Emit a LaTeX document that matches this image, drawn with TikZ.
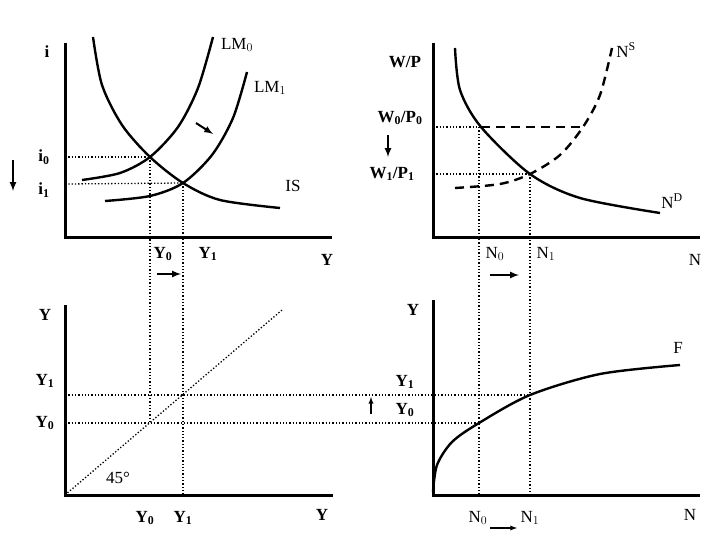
\documentclass[tikz,border=0pt]{standalone}
\usepackage{fontspec}
\setmainfont{Liberation Serif}
\begin{document}
\begin{tikzpicture}[x=1pt,y=-1pt,
 ax/.style={line width=3pt},
 crv/.style={line width=2.4pt},
 dot/.style={dotted,line width=1.3pt},
 arr/.style={-latex,line width=2pt},
 lb/.style={font=\fontsize{17}{19}\selectfont\bfseries,inner sep=0pt},
 ln/.style={font=\fontsize{17}{19}\selectfont,inner sep=0pt}]
\useasboundingbox (0,0) rectangle (720,540);
% key points
\coordinate (E0) at (150,157); \coordinate (E1) at (183,183);
\coordinate (M0) at (481,127); \coordinate (M1) at (530,174);
% top-left axes
\coordinate (o1) at (65,237);
\draw[ax] (65,43) -- (o1) -- (332,237);
\draw[crv] plot[smooth] coordinates {(93,37) (102,85) (122,125) (150,157) (183,183) (220,200) (280,208)};
\draw[crv] plot[smooth] coordinates {(82,180) (120,173) (150,157) (178,127) (198,88) (213,37)};
\draw[crv] plot[smooth] coordinates {(105,201) (150,196) (183,183) (212,155) (233,118) (247,72)};
\draw[dot] (65,157) -- (E0); \draw[dot] (65,184) -- (E1);
\draw[dot] (E0) -- (150,423); \draw[dot] (E1) -- (183,496);
\node[lb] (li) at (47,52) {i};
\node[ln] (lm0) at (237,45) {LM$_0$};
\node[ln] (lm1) at (270,88) {LM$_1$};
\node[ln] (lis) at (293,186) {IS};
\node[lb] (li0) at (44,157) {i$_\mathbf{0}$};
\node[lb] (li1) at (44,190) {i$_\mathbf{1}$};
\coordinate (a1s) at (13,160); \coordinate (a1e) at (13,191); \draw[arr] (a1s) -- (a1e);
\coordinate (a2s) at (196,123); \coordinate (a2e) at (213,134); \draw[arr] (a2s) -- (a2e);
\node[lb] (ty0) at (163,254) {Y$_\mathbf{0}$};
\node[lb] (ty1) at (208,254) {Y$_\mathbf{1}$};
\node[lb] (ty) at (327,260) {Y};
\coordinate (a3s) at (157,274); \coordinate (a3e) at (181,274); \draw[arr] (a3s) -- (a3e);
% top-right
\draw[ax] (433,43) -- (433,237) -- (700,237);
\draw[crv] plot[smooth] coordinates {(455,48) (460,90) (481,127) (530,174) (580,198) (660,213)};
\draw[crv,dash pattern=on 9pt off 6pt] plot[smooth] coordinates {(455,188) (500,184) (530,174) (560,155) (583,127) (600,95) (612,48)};
\draw[dot] (433,127) -- (M0);
\draw[line width=1.6pt,dash pattern=on 9pt off 6pt] (M0) -- (583,127);
\draw[dot] (433,174) -- (M1);
\draw[dot] (479,127) -- (479,496);
\draw[dot] (M1) -- (530,496);
\node[lb] (lwp) at (405,62) {W/P};
\node[ln] (lns) at (626,50) {N$^\mathrm{S}$};
\node[lb] (lw0) at (400,118) {W$_\mathbf{0}$/P$_\mathbf{0}$};
\node[lb] (lw1) at (392,174) {W$_\mathbf{1}$/P$_\mathbf{1}$};
\coordinate (a4s) at (388,135); \coordinate (a4e) at (388,157); \draw[arr] (a4s) -- (a4e);
\node[ln] (lnd) at (672,201) {N$^\mathrm{D}$};
\node[ln] (tn0) at (495,254) {N$_0$};
\node[ln] (tn1) at (546,254) {N$_1$};
\node[ln] (tn) at (695,260) {N};
\coordinate (a5s) at (490,275); \coordinate (a5e) at (519,275); \draw[arr] (a5s) -- (a5e);
% bottom-left
\coordinate (o3) at (65,495);
\draw[ax] (65,305) -- (o3) -- (333,495);
\coordinate (d45) at (282,310); \draw[dot] (o3) -- (d45);
\draw[dot] (65,395) -- (530,395);
\draw[dot] (65,423) -- (479,423);
\node[lb] (by) at (45,315) {Y};
\node[lb] (by1) at (45,381) {Y$_\mathbf{1}$};
\node[lb] (by0) at (45,423) {Y$_\mathbf{0}$};
\node[ln] (l45) at (118,478) {45°};
\node[lb] (bx0) at (145,518) {Y$_\mathbf{0}$};
\node[lb] (bx1) at (183,518) {Y$_\mathbf{1}$};
\node[lb] (bx) at (322,515) {Y};
\coordinate (a6s) at (371,414); \coordinate (a6e) at (371,397); \draw[arr,line width=1.3pt] (a6s) -- (a6e);
% bottom-right
\draw[ax] (433,300) -- (433,495) -- (700,495);
\draw[crv] plot[smooth] coordinates {(433,492) (437,465) (452,442) (479,423) (530,395) (600,374) (680,365)};
\node[lb] (ry) at (413,310) {Y};
\node[ln] (rf) at (678,348) {F};
\node[lb] (ry1) at (405,382) {Y$_\mathbf{1}$};
\node[lb] (ry0) at (405,410) {Y$_\mathbf{0}$};
\node[ln] (rn0) at (478,518) {N$_0$};
\node[ln] (rn1) at (530,518) {N$_1$};
\node[ln] (rn) at (690,515) {N};
\coordinate (a7s) at (490,528); \coordinate (a7e) at (517,528); \draw[arr,line width=1.3pt] (a7s) -- (a7e);
\end{tikzpicture}
\end{document}
